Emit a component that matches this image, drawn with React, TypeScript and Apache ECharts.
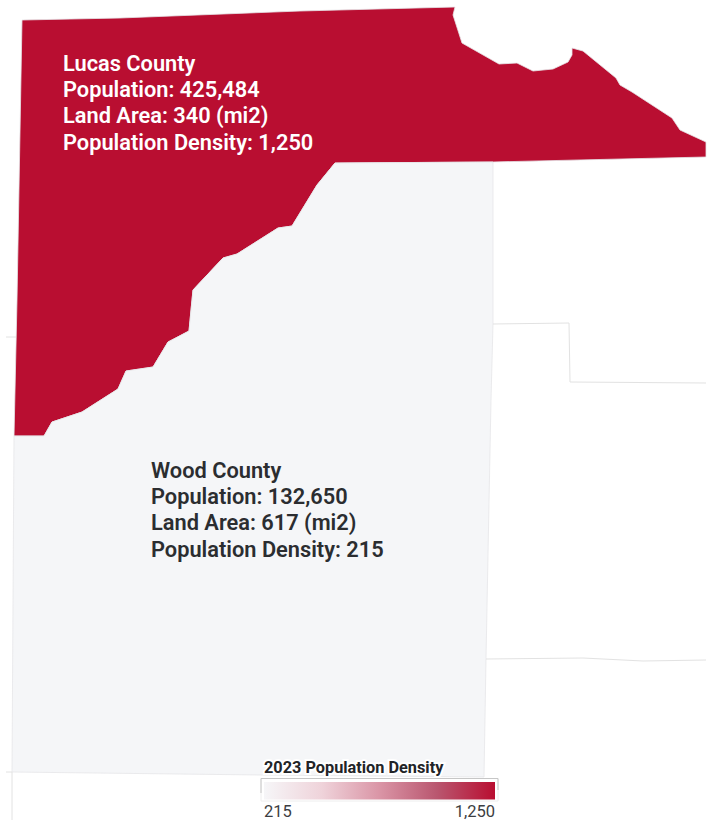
import React, { useEffect, useRef } from "react";
import * as echarts from "echarts";

const lucasOutline: number[][] = [
  [22, 20], [120, 18], [300, 11], [455, 7], [453, 15], [462, 43], [499, 64], [517, 63], [533, 71],
  [553, 69], [568, 62], [572, 55], [572, 48], [583, 51], [616, 78], [620, 85], [632, 92],
  [672, 118], [680, 130], [706, 142], [706, 157], [493, 162], [335, 163], [317, 185], [292, 226],
  [278, 228], [237, 254], [223, 258], [193, 290], [191, 310], [189, 331], [168, 342], [153, 367],
  [126, 371], [118, 389], [82, 412], [52, 422], [44, 436], [14, 436], [17, 300],
];
const woodOutline: number[][] = [
  [14, 436], [44, 436], [52, 422], [82, 412], [118, 389], [126, 371], [153, 367], [168, 342],
  [189, 331], [191, 310], [193, 290], [223, 258], [237, 254], [278, 228], [292, 226], [317, 185],
  [335, 163], [493, 162], [493, 324], [491, 400], [486, 659], [484, 777], [260, 775], [12, 772],
];
const neighborBorders: number[][][] = [
  [[493, 324], [569, 323], [570, 382], [706, 383]],
  [[486, 659], [583, 658], [643, 661], [706, 660]],
  [[6, 337], [16, 337]],
  [[6, 772], [12, 772], [12, 820]],
];
const countyNames = ["Lucas County", "Wood County"];
const population = ["425,484", "132,650"];
const landArea = [340, 617];
const density = [1250, 215];
const legendTitle = "2023 Population Density";
const legendLabels = ["215", "1,250"];
const legendColors = ["#f6f6f8", "#efd3da", "#da95a6", "#b9566f", "#b90e31"];
const countyLabelAnchors: number[][] = [[63, 50], [151, 457]];
const countyLabelColors = ["#ffffff", "#2b2d30"];

const COLOR_LOW = "#f5f6f8";
const COLOR_HIGH = "#b90e31";

const fmt = (n: number) => n.toLocaleString("en-US");

export default function App() {
  const ref = useRef<HTMLDivElement>(null);
  useEffect(() => {
    document.body.style.margin = "0";
    const chart = echarts.init(ref.current!, null, { renderer: "svg" });
    const geoJson = {
      type: "FeatureCollection",
      features: [
        { type: "Feature", properties: { name: countyNames[0] }, geometry: { type: "Polygon", coordinates: [[...lucasOutline, lucasOutline[0]]] } },
        { type: "Feature", properties: { name: countyNames[1] }, geometry: { type: "Polygon", coordinates: [[...woodOutline, woodOutline[0]]] } },
      ],
    };
    echarts.registerMap("counties", geoJson as any);
    const font = "Roboto, sans-serif";
    const legendGradient = new echarts.graphic.LinearGradient(
      0, 0, 1, 0,
      legendColors.map((color, i) => ({ offset: i / (legendColors.length - 1), color }))
    );
    chart.setOption({
      animation: false,
      backgroundColor: "#ffffff",
      geo: {
        map: "counties",
        left: 0, top: 0, width: 714, height: 820,
        boundingCoords: [[0, 0], [714, 820]],
        projection: { project: (p: number[]) => p, unproject: (p: number[]) => p },
        roam: false, silent: true, z: 1,
        itemStyle: { areaColor: "#ffffff", borderColor: "#e6e6e8", borderWidth: 0.8 },
        label: { show: false },
        emphasis: { disabled: true },
      },
      visualMap: {
        type: "continuous",
        show: false,
        seriesIndex: 0,
        min: 215, max: 1250,
        inRange: { color: [COLOR_LOW, COLOR_HIGH] },
      },
      series: [
        {
          type: "map",
          geoIndex: 0,
          silent: true,
          label: { show: false },
          data: countyNames.map((name, i) => ({ name, value: density[i] })),
        },
        {
          type: "lines",
          coordinateSystem: "geo",
          polyline: true,
          silent: true,
          z: 2,
          lineStyle: { color: "#e2e2e2", width: 1, opacity: 1 },
          data: neighborBorders.map((coords) => ({ coords })),
        },
        {
          type: "scatter",
          coordinateSystem: "geo",
          silent: true,
          symbolSize: 0,
          z: 3,
          itemStyle: { opacity: 1 },
          data: countyNames.map((name, i) => ({
            name,
            value: countyLabelAnchors[i],
            label: {
              show: true,
              opacity: 1,
              position: [0, 0],
              align: "left",
              verticalAlign: "top",
              fontFamily: font,
              fontWeight: 600,
              fontSize: 21.8,
              lineHeight: 26.3,
              color: countyLabelColors[i],
              formatter: [
                name,
                `Population: ${population[i]}`,
                `Land Area: ${landArea[i]} (mi2)`,
                `Population Density: ${fmt(density[i])}`,
              ].join("\n"),
            },
          })),
        },
      ],
      graphic: [
        {
          type: "rect", z: 90, silent: true,
          shape: { x: 261, y: 778.5, width: 237, height: 22.5 },
          style: { fill: "#ffffff", stroke: "#eeeeee", lineWidth: 1 },
        },
        {
          type: "polyline", z: 91, silent: true,
          shape: { points: [[261, 793], [261, 778.5], [498, 778.5], [498, 790]] },
          style: { fill: "none", stroke: "#c6c6c6", lineWidth: 1 },
        },
        {
          type: "rect", z: 92, silent: true,
          shape: { x: 264, y: 782, width: 231, height: 17.5 },
          style: { fill: legendGradient },
        },
        {
          type: "text", z: 100, x: 264, y: 767,
          style: {
            text: legendTitle, fill: "#222427", stroke: "#ffffff", lineWidth: 4,
            font: `700 16.3px ${font}`, textVerticalAlign: "middle", textAlign: "left",
          },
        },
        {
          type: "text", z: 100, x: 264, y: 811,
          style: {
            text: legendLabels[0], fill: "#3c3e42", stroke: "#ffffff", lineWidth: 4,
            font: `400 16.5px ${font}`, textVerticalAlign: "middle", textAlign: "left",
          },
        },
        {
          type: "text", z: 100, x: 495, y: 811,
          style: {
            text: legendLabels[1], fill: "#3c3e42", stroke: "#ffffff", lineWidth: 4,
            font: `400 16.5px ${font}`, textVerticalAlign: "middle", textAlign: "right",
          },
        },
      ],
    });
    return () => chart.dispose();
  }, []);
  return <div ref={ref} style={{ width: 714, height: 820 }} />;
}
